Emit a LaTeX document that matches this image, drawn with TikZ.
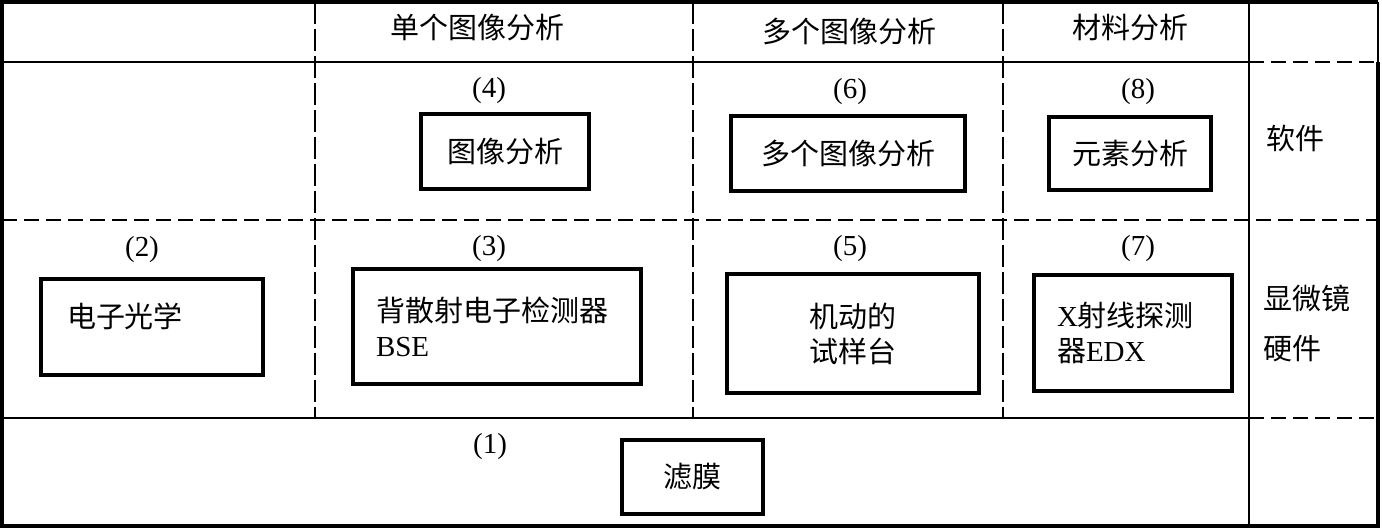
\documentclass[tikz,border=0pt]{standalone}
\usepackage{fontspec}
\setmainfont{Liberation Serif}
\newfontfamily\cjk{Noto Sans CJK SC}
\newcommand{\zhtext}[1]{{\cjk #1}}
\usepackage{tikz}
\usetikzlibrary{positioning}

\begin{document}
\begin{tikzpicture}[
  x=0.5pt, y=-0.5pt,
  every node/.style={inner sep=0pt, font=\fontsize{14.5pt}{17.5pt}\selectfont},
  box/.style={draw, line width=1.7pt, align=center},
  leftbox/.style={box, align=left, inner xsep=11.5pt},
  num/.style={},
  frame/.style={line width=2pt},
  grid/.style={line width=0.8pt},
  griddash/.style={line width=0.8pt, dash pattern=on 7.5pt off 3.5pt},
  coldash/.style={line width=0.8pt, dash pattern=on 11pt off 2.5pt}
]
  \useasboundingbox (0,0) rectangle (1382,528);

  % table frame
  \draw[frame] (1378,62) -- (1378,526) -- (2,526) -- (2,2) -- (1378,2);
  \draw[grid] (1378,2) -- (1378,62);
  \draw[grid] (2,62) -- (1249,62);
  \draw[griddash] (1249,62) -- (1378,62);
  \draw[griddash] (2,220) -- (1378,220);
  \draw[grid] (2,418) -- (1249,418);
  \draw[griddash] (1249,418) -- (1378,418);
  \foreach \x in {315,693,1003}
    \draw[coldash] (\x,2) -- (\x,418);
  \draw[line width=1.2pt] (1249,2) -- (1249,526);

  % column heads
  \node (single) at (477,28) {\zhtext{单个图像分析}};
  \node (multi) at (849,32) {\zhtext{多个图像分析}};
  \node (material) at (1130,28) {\zhtext{材料分析}};

  % software row
  \node[num] (n4) at (489,91) {(4)};
  \node[box, minimum width=84pt, minimum height=37.5pt] (imgan) at (505,151.5) {\zhtext{图像分析}};
  \node[num] (n6) at (850,92) {(6)};
  \node[box, minimum width=117pt, minimum height=37.5pt] (multian) at (848,153.5) {\zhtext{多个图像分析}};
  \node[num] (n8) at (1138,92) {(8)};
  \node[box, minimum width=81pt, minimum height=36.5pt] (element) at (1130,153.5) {\zhtext{元素分析}};
  \node (software) at (1295,138) {\zhtext{软件}};

  % hardware row
  \node[num] (n2) at (142,250) {(2)};
  \node[leftbox, inner xsep=13pt, text width=85pt, minimum height=48pt, text depth=12pt] (optics) at (152,327) {\zhtext{电子光学}};
  \node[num] (n3) at (489,249) {(3)};
  \node[leftbox, text width=121pt, minimum height=57.5pt] (bse) at (497,326.5) {\zhtext{背散射电子检测器}\\BSE};
  \node[num] (n5) at (850,249) {(5)};
  \node[box, minimum width=126pt, minimum height=59.5pt] (stage) at (853,333.5) {\zhtext{机动的}\\\zhtext{试样台}};
  \node[num] (n7) at (1138,249) {(7)};
  \node[leftbox, text width=76pt, minimum height=58pt] (edx) at (1133,333) {X\zhtext{射线探测}\\\zhtext{器}EDX};
  \node[anchor=west, align=left, font=\fontsize{14.5pt}{25pt}\selectfont] (hardware) at (1263,323) {\zhtext{显微镜}\\\zhtext{硬件}};

  % filter row
  \node[num] (n1) at (490,447) {(1)};
  \node[box, minimum width=70.5pt, minimum height=37pt] (filter) at (692.5,477) {\zhtext{滤膜}};
\end{tikzpicture}
\end{document}
